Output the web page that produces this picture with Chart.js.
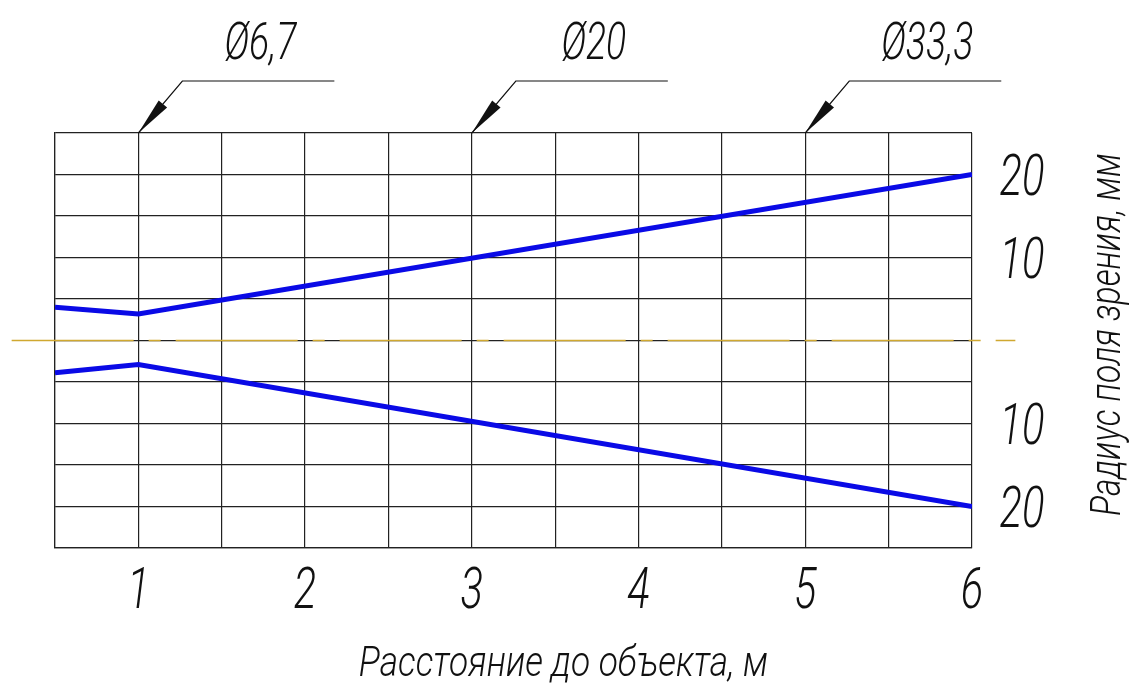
<!doctype html>
<html lang="ru">
<head>
<meta charset="utf-8">
<title>Радиус поля зрения</title>
<style>
  html, body { margin: 0; padding: 0; background: #fff; }
  #wrap { width: 1133px; height: 684px; }
</style>
</head>
<body>
<div id="wrap"><canvas id="myChart" width="1133" height="684"></canvas></div>
<script src="https://cdn.jsdelivr.net/npm/chart.js"></script>
<script>
// distance to object, m
var distance = [0.5, 1, 6];
// field of view radius, mm (upper and lower edge)
var upperEdge = [4.0, 3.2, 20];
var lowerEdge = [-3.9, -2.9, -20];
// axis centre line (y = 0), runs a bit past the grid
var axisX = [0.24, 6.26];
var axisY = [0, 0];

var xTicks = [1, 2, 3, 4, 5, 6];
var yTicks = [20, 10, -10, -20];
// diameter callouts on top: where the arrow points and the label
var calloutX = [1, 3, 5];
var calloutText = ['\u00D86,7', '\u00D820', '\u00D833,3'];

var xTitle = 'Расстояние до объекта, м';
var yTitle = 'Радиус поля зрения, мм';

var FONT = "Roboto, 'DejaVu Sans', sans-serif";

function gostText(ctx, text, x, y, size, align, angle, sx) {
    ctx.save();
    ctx.translate(x, y);
    if (angle) ctx.rotate(angle);
    ctx.scale(sx || 0.72, 1);
    ctx.font = 'italic 300 ' + size + 'px ' + FONT;
    ctx.fillStyle = '#111';
    ctx.textAlign = align || 'center';
    ctx.textBaseline = 'alphabetic';
    ctx.fillText(text, 0, 0);
    ctx.restore();
}

var drawingPlugin = {
    id: 'drawing',
    afterDraw: function(chart) {
        var ctx = chart.ctx;
        var xs = chart.scales.x, ys = chart.scales.y;
        var top = chart.chartArea.top, bottom = chart.chartArea.bottom, right = chart.chartArea.right;

        // tick labels
        xTicks.forEach(function(v) {
            gostText(ctx, String(v), xs.getPixelForValue(v), bottom + 60, 58, 'center');
        });
        yTicks.forEach(function(v) {
            gostText(ctx, String(Math.abs(v)), right + 50, ys.getPixelForValue(v) + 20, 58, 'center');
        });

        // axis titles
        gostText(ctx, xTitle, (chart.chartArea.left + right) / 2 + 50, bottom + 128, 42, 'center', 0, 0.84);
        gostText(ctx, yTitle, right + 148, (top + bottom) / 2 - 6, 42, 'center', -Math.PI / 2, 0.8);

        // callouts with leader arrows
        calloutX.forEach(function(v, i) {
            var tx = xs.getPixelForValue(v);
            var ty = top;
            var kx = tx + 44, ky = top - 52;
            var ex = kx + 152;
            ctx.save();
            ctx.strokeStyle = '#111';
            ctx.lineWidth = 1.2;
            ctx.beginPath();
            ctx.moveTo(tx, ty);
            ctx.lineTo(kx, ky);
            ctx.lineTo(ex, ky);
            ctx.stroke();
            // arrow head
            var ang = Math.atan2(ky - ty, kx - tx);
            var len = 38, half = 5.5;
            var bx = tx + Math.cos(ang) * len, by = ty + Math.sin(ang) * len;
            ctx.fillStyle = '#111';
            ctx.beginPath();
            ctx.moveTo(tx, ty);
            ctx.lineTo(bx - Math.sin(ang) * half, by + Math.cos(ang) * half);
            ctx.lineTo(bx + Math.sin(ang) * half, by - Math.cos(ang) * half);
            ctx.closePath();
            ctx.fill();
            ctx.restore();
            gostText(ctx, calloutText[i], (kx + ex) / 2 + 2, ky - 22, 52, 'center');
        });
    }
};

var ctx = document.getElementById('myChart');
new Chart(ctx, {
    type: 'line',
    data: {
        datasets: [
            {
                label: 'axis',
                data: axisX.map(function(x, i) { return { x: x, y: axisY[i] }; }),
                borderColor: '#d0a830',
                borderWidth: 1.5,
                borderDash: [122, 15, 12, 15],
                pointRadius: 0,
                clip: false
            },
            {
                label: 'upper',
                data: distance.map(function(x, i) { return { x: x, y: upperEdge[i] }; }),
                borderColor: '#0a0ae6',
                borderWidth: 5,
                pointRadius: 0,
                tension: 0
            },
            {
                label: 'lower',
                data: distance.map(function(x, i) { return { x: x, y: lowerEdge[i] }; }),
                borderColor: '#0a0ae6',
                borderWidth: 5,
                pointRadius: 0,
                tension: 0
            }
        ]
    },
    options: {
        responsive: false,
        animation: false,
        layout: { padding: { left: 55, right: 161, top: 133, bottom: 136 } },
        plugins: { legend: { display: false }, tooltip: { enabled: false } },
        scales: {
            x: {
                type: 'linear',
                min: 0.5, max: 6,
                ticks: { display: false, stepSize: 0.5 },
                grid: { color: '#222', lineWidth: 1.2, drawTicks: false },
                border: { color: '#222', width: 1.2 }
            },
            y: {
                type: 'linear',
                min: -25, max: 25,
                ticks: { display: false, stepSize: 5 },
                grid: { color: '#222', lineWidth: 1.2, drawTicks: false },
                border: { color: '#222', width: 1.2 }
            }
        }
    },
    plugins: [drawingPlugin]
});
</script>
</body>
</html>
